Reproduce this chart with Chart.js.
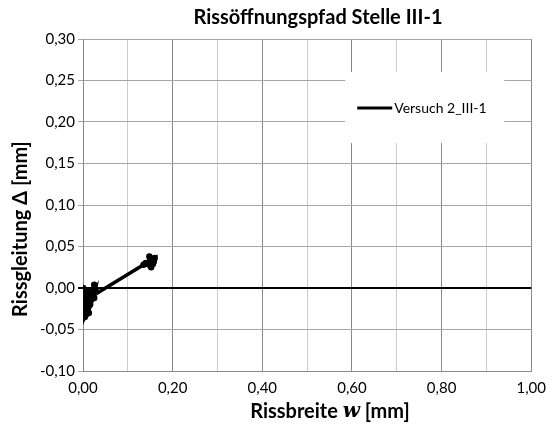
<!DOCTYPE html>
<html>
<head>
<meta charset="utf-8">
<script src="https://cdn.jsdelivr.net/npm/chart.js@4.4.1/dist/chart.umd.min.js"></script>
<style>
  html, body { margin: 0; padding: 0; background: #fff; }
  #wrap { width: 554px; height: 432px; }
</style>
</head>
<body>
<div id="wrap"><canvas id="pathChart"></canvas></div>
<script>
const chartTitle = 'Rissöffnungspfad Stelle III-1';
const yTitle = 'Rissgleitung Δ [mm]';
const seriesLabel = 'Versuch 2_III-1';
// Rissbreite w [mm] / Rissgleitung Δ [mm]
const crackWidth = [0.000, 0.002, 0.005, 0.003, 0.008, 0.004, 0.010, 0.006, 0.012, 0.009,
                    0.015, 0.011, 0.018, 0.020, 0.025, 0.022, 0.028, 0.025, 0.016, 0.013,
                    0.007, 0.002, 0.001, 0.010, 0.020, 0.135, 0.140,
                    0.145, 0.150, 0.155, 0.148, 0.158, 0.152, 0.160, 0.150, 0.156];
const crackSlip  = [0.000, -0.010, -0.020, -0.030, -0.025, -0.035, -0.028, -0.018, -0.022, -0.012,
                    -0.015, -0.005, -0.010, -0.004, 0.004, -0.008, -0.002, -0.012, -0.020, -0.030,
                    -0.032, -0.026, -0.015, -0.008, -0.010, 0.028, 0.030,
                    0.029, 0.027, 0.035, 0.038, 0.032, 0.025, 0.036, 0.033, 0.029];
const xMin = 0, xMax = 1, xStep = 0.1;
const yMin = -0.1, yMax = 0.3, yStep = 0.05;

const fontFam = 'Lato, "Open Sans", sans-serif';
const fmt = v => v.toFixed(2).replace('.', ',');

const points = crackWidth.map((w, i) => ({ x: w, y: crackSlip[i] }));

// legend box inside the plot, titles (x title has an italic w)
const overlay = {
    id: 'overlay',
    beforeDatasetsDraw(chart) {
        const c = chart.ctx, a = chart.chartArea;
        const x0 = a.left + (a.right - a.left) * 0.585;
        const y0 = a.top + 33;
        c.save();
        c.fillStyle = '#fff';
        c.fillRect(x0, y0, 159, 71);
        c.strokeStyle = '#000';
        c.lineWidth = 3;
        c.beginPath();
        c.moveTo(x0 + 12, y0 + 36);
        c.lineTo(x0 + 47, y0 + 36);
        c.stroke();
        c.fillStyle = '#000';
        c.font = '14px ' + fontFam;
        c.textBaseline = 'middle';
        c.fillText(chart.data.datasets[0].label, x0 + 49, y0 + 36);
        c.restore();
    },
    afterDraw(chart) {
        const c = chart.ctx;
        c.save();
        c.fillStyle = '#000';
        c.textBaseline = 'middle';
        c.textAlign = 'center';
        c.font = 'bold 20px ' + fontFam;
        c.fillText(chartTitle, 318, 18);
        // y axis title
        c.save();
        c.translate(21, 229);
        c.rotate(-Math.PI / 2);
        c.font = 'bold 20px ' + fontFam;
        c.fillText(yTitle, 0, 0);
        c.restore();
        // x axis title
        const parts = [['Rissbreite ', 'bold 20px ' + fontFam], ['w', 'italic bold 20px "DejaVu Serif", serif'], [' [mm]', 'bold 20px ' + fontFam]];
        c.textAlign = 'left';
        let total = 0;
        parts.forEach(p => { c.font = p[1]; total += c.measureText(p[0]).width; });
        let x = 330 - total / 2;
        parts.forEach(p => { c.font = p[1]; c.fillText(p[0], x, 412); x += c.measureText(p[0]).width; });
        c.restore();
    }
};

const ctx = document.getElementById('pathChart').getContext('2d');
new Chart(ctx, {
    type: 'scatter',
    data: {
        datasets: [{
            label: seriesLabel,
            data: points,
            showLine: true,
            borderColor: '#000',
            backgroundColor: '#000',
            borderWidth: 3.5,
            pointRadius: 1.5,
            pointHoverRadius: 1.5
        }]
    },
    options: {
        animation: false,
        responsive: true,
        maintainAspectRatio: false,
        layout: { padding: { top: 39, right: 19, bottom: 0, left: 0 } },
        plugins: { legend: { display: false }, title: { display: false }, tooltip: { enabled: false } },
        scales: {
            x: {
                type: 'linear', min: xMin, max: xMax,
                afterFit: s => { s.height = 61; },
                ticks: {
                    stepSize: xStep, autoSkip: false, maxRotation: 0, padding: 8,
                    color: '#000', font: { family: fontFam, size: 15 },
                    callback: v => Math.round(v * 10) % 2 === 0 ? fmt(v) : ''
                },
                grid: {
                    drawTicks: false,
                    color: c => (c.tick && Math.round(c.tick.value * 10) % 2 === 0) ? '#8a8a8a' : '#cccccc'
                },
                border: { color: '#8a8a8a' }
            },
            y: {
                type: 'linear', min: yMin, max: yMax,
                afterFit: s => { s.width = 83; },
                ticks: {
                    stepSize: yStep, padding: 3,
                    color: '#000', font: { family: fontFam, size: 15 },
                    callback: v => fmt(v)
                },
                grid: {
                    tickLength: 5,
                    color: c => (c.tick && Math.abs(c.tick.value) < 1e-9) ? '#000' : '#a6a6a6',
                    lineWidth: c => (c.tick && Math.abs(c.tick.value) < 1e-9) ? 2 : 1
                },
                border: { color: '#8a8a8a' }
            }
        }
    },
    plugins: [overlay]
});
</script>
</body>
</html>
